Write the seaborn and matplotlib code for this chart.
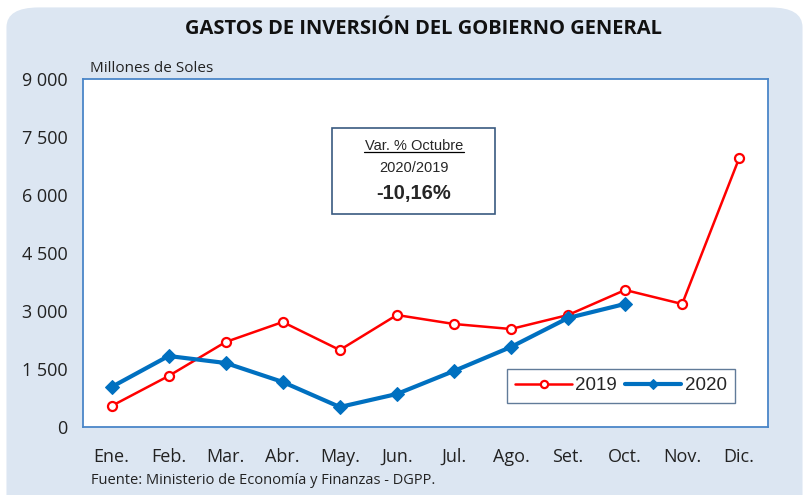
import pandas as pd
import numpy as np
import matplotlib.pyplot as plt
import seaborn as sns
from matplotlib.patches import FancyBboxPatch

# Data (millones de soles)
meses = ['Ene.', 'Feb.', 'Mar.', 'Abr.', 'May.', 'Jun.', 'Jul.', 'Ago.', 'Set.', 'Oct.', 'Nov.', 'Dic.']
gasto_2019 = [543, 1319, 2198, 2715, 1991, 2896, 2664, 2534, 2896, 3543, 3181, 6956]
gasto_2020 = [1034, 1836, 1655, 1164, 517, 853, 1448, 2069, 2819, 3183]
yticks = [0, 1500, 3000, 4500, 6000, 7500, 9000]
ytick_labels = ['0', '1 500', '3 000', '4 500', '6 000', '7 500', '9 000']

df19 = pd.DataFrame({'pos': range(len(gasto_2019)), 'valor': gasto_2019})
df20 = pd.DataFrame({'pos': range(len(gasto_2020)), 'valor': gasto_2020})

sns.set_style('white')
plt.rcParams['font.family'] = ['Open Sans', 'DejaVu Sans']

fig = plt.figure(figsize=(8.09, 4.95), dpi=100)
fig.patch.set_facecolor('white')

# rounded light-blue background
bg = FancyBboxPatch((0.008, -0.05), 0.984, 1.035, boxstyle='round,pad=0,rounding_size=0.04',
                    transform=fig.transFigure, facecolor='#dce6f2', edgecolor='none', zorder=-10)
fig.patches.append(bg)

ax = fig.add_axes([0.1026, 0.1374, 0.8464, 0.703])
ax.set_facecolor('white')

sns.lineplot(data=df19, x='pos', y='valor', ax=ax, color='#ff0000', linewidth=1.8,
             marker='o', markersize=6.5, markerfacecolor='white', markeredgecolor='#ff0000',
             markeredgewidth=1.6, label='2019')
sns.lineplot(data=df20, x='pos', y='valor', ax=ax, color='#0070c0', linewidth=3,
             marker='D', markersize=7, markerfacecolor='#0070c0', markeredgecolor='#0070c0',
             label='2020')

ax.set_xlim(-0.5, len(meses) - 0.5)
ax.set_ylim(0, 9000)
ax.set_yticks(yticks)
ax.set_yticklabels(ytick_labels, fontsize=13, color='#222222')
ax.set_xticks(range(len(meses)))
ax.set_xticklabels(meses, fontsize=13, color='#222222')
ax.set_xticks(np.arange(-0.5, len(meses), 1), minor=True)
ax.tick_params(axis='x', which='major', length=0, pad=15)
ax.tick_params(axis='x', which='minor', length=8, color='#4a7ebb', direction='out', width=1)
ax.tick_params(axis='y', which='major', length=5, color='#4a7ebb', direction='out', width=1, pad=6)
ax.set_xlabel('')
ax.set_ylabel('')
for s in ax.spines.values():
    s.set_color('#4a86c8')
    s.set_linewidth(1.3)

leg = ax.legend(loc='lower right', bbox_to_anchor=(0.966, 0.043), ncol=2,
                prop={'family': ['Liberation Sans', 'DejaVu Sans'], 'size': 13.5},
                frameon=True, fancybox=False, handlelength=3.0, columnspacing=0.4,
                handletextpad=0.2, borderpad=0.45, markerscale=0.8)
leg.get_frame().set_edgecolor('#3a5a80')
leg.get_frame().set_linewidth(1.0)

# annotation box
ax.add_patch(plt.Rectangle((0.364, 0.613), 0.238, 0.247, transform=ax.transAxes,
                           facecolor='white', edgecolor='#3a5a80', linewidth=1.2, zorder=5))
ax.text(0.483, 0.808, 'Var. % Octubre', transform=ax.transAxes, ha='center', va='center',
        fontsize=10.5, family=['Liberation Sans', 'DejaVu Sans'], zorder=6)
ax.plot([0.41, 0.556], [0.789, 0.789], transform=ax.transAxes, color='black', lw=0.9, zorder=6)
ax.text(0.483, 0.743, '2020/2019', transform=ax.transAxes, ha='center', va='center',
        fontsize=10.5, family=['Liberation Sans', 'DejaVu Sans'], zorder=6)
ax.text(0.483, 0.671, '-10,16%', transform=ax.transAxes, ha='center', va='center',
        fontsize=14.5, fontweight='bold', family=['Liberation Sans', 'DejaVu Sans'], zorder=6)

fig.text(0.523, 0.942, 'GASTOS DE INVERSIÓN DEL GOBIERNO GENERAL', ha='center', va='center',
         fontsize=14.5, fontweight='bold', color='#111111')
fig.text(0.111, 0.862, 'Millones de Soles', ha='left', va='center', fontsize=11, color='#222222')
fig.text(0.113, 0.03, 'Fuente: Ministerio de Economía y Finanzas - DGPP.', ha='left', va='center',
         fontsize=10.5, color='#222222')

fig.savefig('out.png', dpi=100)
